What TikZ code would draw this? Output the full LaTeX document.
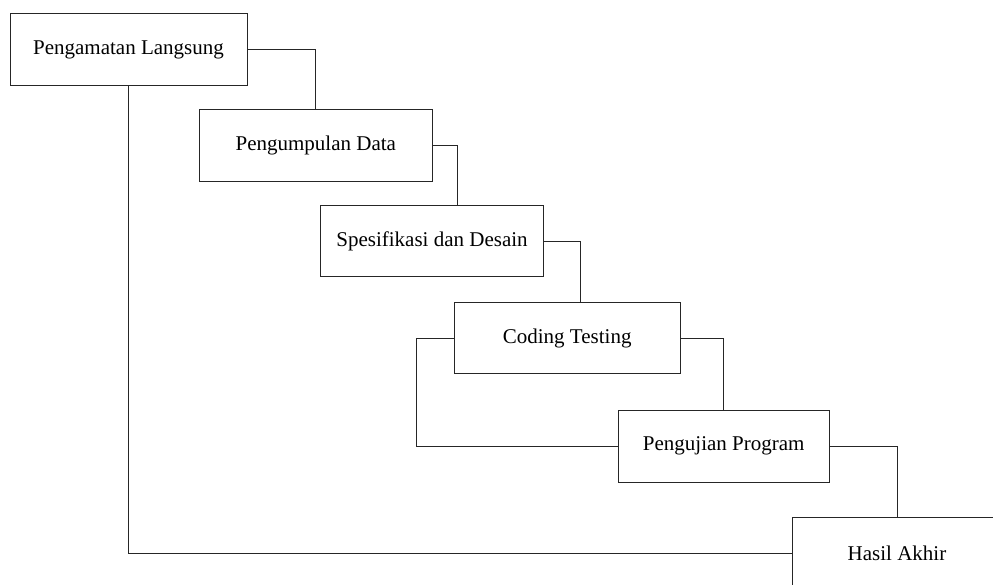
\documentclass[tikz,border=0pt]{standalone}
\usepackage{fontspec}
\setmainfont{Liberation Serif}
\begin{document}
\begin{tikzpicture}[x=1pt,y=-1pt,
  box/.style={draw=black!85, line width=1pt, rectangle, inner sep=0pt, fill=white,
    font=\fontsize{21}{25}\selectfont},
  link/.style={draw=black!85, line width=1pt}]
\useasboundingbox (0,0) rectangle (993,585);
\clip (0,0) rectangle (993,585);
\node[box, minimum width=237pt, minimum height=72.4pt] (b1) at (128.5,49.5) {Pengamatan Langsung};
\node[box, minimum width=233pt, minimum height=71.7pt] (b2) at (315.8,145.2) {Pengumpulan Data};
\node[box, minimum width=222.6pt, minimum height=71pt] (b3) at (432,241.5) {Spesifikasi dan Desain};
\node[box, minimum width=225.7pt, minimum height=71.4pt] (b4) at (567.2,338) {Coding Testing};
\node[box, minimum width=210.7pt, minimum height=72.3pt] (b5) at (723.7,446.2) {Pengujian Program};
\node[box, minimum width=210pt, minimum height=72pt] (b6) at (897,553.7) {Hasil Akhir};
\draw[link] (b1.east) -| (b2.north);
\draw[link] (b2.east) -| ([xshift=25.3pt]b3.north);
\draw[link] (b3.east) -| ([xshift=12.8pt]b4.north);
\draw[link] (b4.east) -| (b5.north);
\draw[link] (b5.east) -| (b6.north);
\draw[link] (b1.south) |- (b6.west);
\draw[link] (b5.west) -- ++(-201,0) |- (b4.west);
\end{tikzpicture}
\end{document}
